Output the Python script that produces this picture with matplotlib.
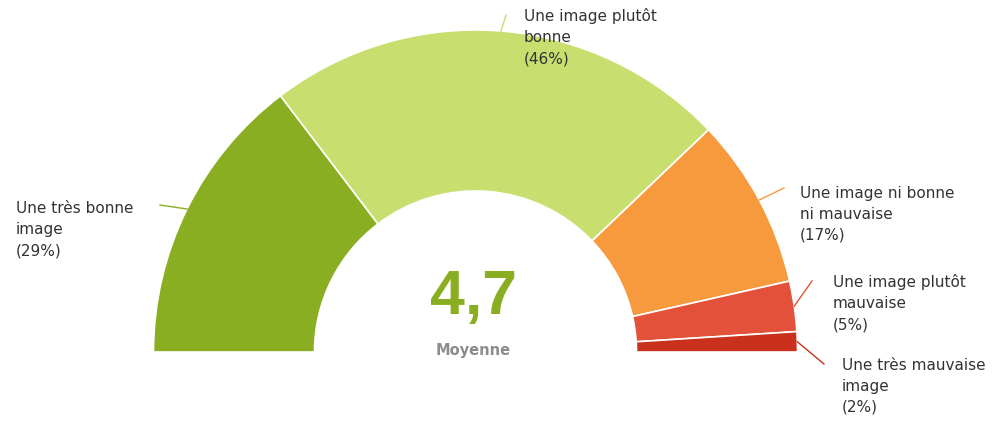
import matplotlib.pyplot as plt

labels = ["Une très bonne\nimage", "Une image plutôt\nbonne", "Une image ni bonne\nni mauvaise",
          "Une image plutôt\nmauvaise", "Une très mauvaise\nimage"]
values = [29, 46, 17, 5, 2]
colors = ["#8aae22", "#c8de6e", "#f79a3e", "#e3513b", "#c9311d"]
average = "4,7"

# text position (left, top in pixels) and end of the leader line
label_pos = [(16, 201), (524, 8), (800, 186), (833, 274), (842, 358)]
line_end = [(160, 205), (506, 15), (784, 188), (812, 281), (824, 364)]

W, H = 996, 424


def main():
    fig = plt.figure(figsize=(W / 100, H / 100), dpi=100)
    ax = fig.add_axes([0, 0, 1, 1])

    cx, cy, r = 475.5, H - 352, 322
    # half donut: a hidden slice equal to the total fills the bottom half
    wedges, _ = ax.pie(values + [sum(values)], colors=colors + ["none"],
                       radius=r, center=(cx, cy), startangle=180, counterclock=False,
                       wedgeprops=dict(width=r / 2, edgecolor="white", linewidth=1.2))
    wedges[-1].set_edgecolor("none")

    import numpy as np
    for w, lab, v, col, (tx, ty), (lx, ly) in zip(wedges, labels, values, colors, label_pos, line_end):
        mid = np.deg2rad((w.theta1 + w.theta2) / 2)
        x0, y0 = cx + r * np.cos(mid), cy + r * np.sin(mid)
        ax.plot([x0, lx], [y0, H - ly], color=col, lw=1)
        ax.text(tx, H - ty, f"{lab}\n({v}%)", ha="left", va="top", fontsize=11,
                color="#333333", linespacing=1.5)

    ax.text(cx - 2, H - 298, average, ha="center", va="center", fontsize=45,
            fontweight="bold", color="#8aae22", family="Liberation Sans")
    ax.text(cx - 2, H - 350, "Moyenne", ha="center", va="center", fontsize=10.5,
            fontweight="bold", color="#8c8c8c")

    ax.set_xlim(0, W)
    ax.set_ylim(0, H)
    ax.set_aspect("equal")
    ax.axis("off")
    fig.savefig("out.png", dpi=100, facecolor="white")


if __name__ == "__main__":
    main()
